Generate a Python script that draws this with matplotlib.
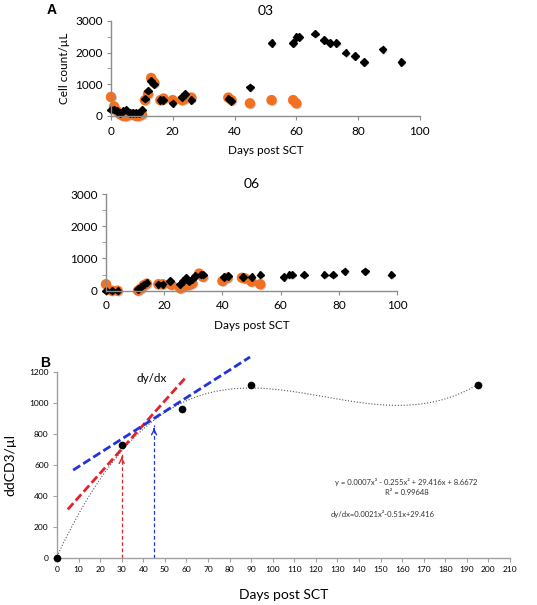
import numpy as np
import matplotlib
matplotlib.use('Agg')
import matplotlib.pyplot as plt
import matplotlib.patheffects as pe

plt.rcParams['font.family'] = ['Lato', 'DejaVu Sans']

# panel A, patient 03
p03_black_day = [0, 1, 2, 3, 4, 5, 6, 7, 8, 9, 10, 11, 12, 13, 14, 16, 17, 20, 23, 24, 26,
                 38, 39, 45, 52, 59, 60, 61, 66, 69, 71, 73, 76, 79, 82, 88, 94]
p03_black_val = [200, 200, 150, 100, 150, 200, 100, 100, 100, 100, 200, 550, 800, 1100, 1000, 500, 500, 400, 600, 700, 500,
                 550, 480, 900, 2300, 2300, 2500, 2500, 2600, 2400, 2300, 2300, 2000, 1900, 1700, 2100, 1700]
p03_orange_day = [0, 1, 2, 3, 4, 5, 6, 7, 8, 9, 10, 11, 12, 13, 14, 16, 17, 20, 23, 24, 26, 38, 39, 45, 52, 59, 60]
p03_orange_val = [600, 300, 150, 50, 0, 0, 50, 50, 0, 0, 50, 500, 700, 1200, 1050, 500, 550, 500, 500, 550, 580,
                  580, 500, 400, 500, 500, 400]

# panel A, patient 06
p06_black_day = [0, 2, 4, 11, 12, 13, 14, 18, 19.5, 22, 25.5, 26.5, 27.5, 28.5, 29.5, 30.5, 32.5, 33.3,
                 40.5, 42, 47, 50, 53, 61, 63, 64, 68, 75, 78, 82, 89, 98]
p06_black_val = [0, 0, 0, 50, 130, 200, 250, 200, 200, 300, 200, 300, 400, 300, 350, 450, 500, 500,
                 420, 450, 420, 420, 500, 420, 500, 500, 500, 500, 500, 600, 600, 500]
p06_orange_day = [0, 2, 4, 11, 12, 13, 14, 18, 19.5, 22.5, 25.5, 26.3, 27.2, 28.6, 29.7, 32, 33.3,
                  40, 41.7, 46.7, 47.8, 50, 53]
p06_orange_val = [200, 0, 0, 0, 70, 170, 220, 200, 200, 180, 70, 130, 150, 180, 230, 530, 430,
                  300, 400, 400, 380, 280, 200]

# panel B
b_day = [0, 30, 58, 90, 195]
b_val = [0, 726, 960, 1113, 1118]
red_tan_x = [5, 60]
red_tan_y = [313, 1170]
blue_tan_x = [7.5, 89.5]
blue_tan_y = [567, 1297]
red_arrow = (30, 670)
blue_arrow = (45, 855)

orange = '#F37021'
grey = '#8C8C8C'
shadow = [pe.SimplePatchShadow(offset=(1, -1), shadow_rgbFace='#999999', alpha=0.5), pe.Normal()]

fig = plt.figure(figsize=(5.37, 6.05), dpi=100)


def style_a(ax, title):
    ax.set_xlim(0, 100)
    ax.set_ylim(0, 3000)
    for s in ['top', 'right']:
        ax.spines[s].set_visible(False)
    for s in ['left', 'bottom']:
        ax.spines[s].set_color(grey)
        ax.spines[s].set_linewidth(1)
    ax.set_xticks(range(0, 101, 20))
    ax.set_yticks(range(0, 3001, 1000))
    ax.set_yticks(range(0, 3001, 500), minor=True)
    ax.tick_params(axis='both', which='both', direction='out', color=grey, length=3,
                   labelsize=8.5, pad=3)
    ax.tick_params(axis='x', pad=4)
    ax.set_title(title, fontsize=10, pad=4)
    ax.set_xlabel('Days post SCT', fontsize=8.5, labelpad=6)


ax1 = fig.add_axes([0.2067, 0.8083, 0.575, 0.157])
style_a(ax1, '03')
ax1.plot(p03_orange_day, p03_orange_val, 'o', color=orange, ms=6.5, clip_on=False, path_effects=shadow)
ax1.plot(p03_black_day, p03_black_val, 'D', color='black', ms=3.8, clip_on=False, path_effects=shadow)
ax1.set_ylabel('Cell count/µL', fontsize=8.5, labelpad=4)
fig.text(0.097, 0.983, 'A', fontsize=10, fontweight='bold', ha='center', va='center', family='Liberation Sans')

ax2 = fig.add_axes([0.1974, 0.5195, 0.542, 0.1598])
style_a(ax2, '06')
ax2.plot(p06_orange_day, p06_orange_val, 'o', color=orange, ms=6.5, clip_on=False, path_effects=shadow)
ax2.plot(p06_black_day, p06_black_val, 'D', color='black', ms=3.8, clip_on=False, path_effects=shadow)

ax3 = fig.add_axes([0.1061, 0.0777, 0.8436, 0.3074])
ax3.set_xlim(0, 210)
ax3.set_ylim(0, 1200)
for s in ['top', 'right']:
    ax3.spines[s].set_visible(False)
for s in ['left', 'bottom']:
    ax3.spines[s].set_color('#A0A0A0')
    ax3.spines[s].set_linewidth(1)
ax3.set_xticks(range(0, 211, 10))
ax3.set_yticks(range(0, 1201, 200))
ax3.tick_params(axis='both', direction='out', color='#A0A0A0', length=3, labelsize=6, pad=3)
ax3.set_xlabel('Days post SCT', fontsize=10, labelpad=11)
ax3.set_ylabel('ddCD3/µl', fontsize=10, labelpad=9)

# cubic trendline like excel
coef = np.polyfit(b_day, b_val, 3)
xs = np.linspace(0, max(b_day), 300)
ax3.plot(xs, np.polyval(coef, xs), ':', color='#555555', lw=0.8)
ax3.plot(b_day, b_val, 'o', color='black', ms=4.5, clip_on=False, zorder=5)

ax3.plot(red_tan_x, red_tan_y, color='#E3232A', lw=2, ls=(0, (3, 1.3)), clip_on=False)
ax3.plot(blue_tan_x, blue_tan_y, color='#2233DD', lw=2, ls=(0, (3, 1.3)), clip_on=False)

for (ax_x, ax_y), c in [(red_arrow, '#E3232A'), (blue_arrow, '#2233DD')]:
    ax3.plot([ax_x, ax_x], [0, ax_y], color=c, lw=0.9, ls=(0, (3, 2)))
    ax3.annotate('', xy=(ax_x, ax_y), xytext=(ax_x, ax_y - 40),
                 arrowprops=dict(arrowstyle='->', color=c, lw=1, mutation_scale=9))

ax3.text(44, 1160, 'dy/dx', fontsize=8.5, ha='center', va='center')
ax3.text(162, 490, 'y = 0.0007x³ - 0.255x² + 29.416x + 8.6672', fontsize=5.5, ha='center', va='center', color='#333333')
ax3.text(162, 422, 'R² = 0.99648', fontsize=5.5, ha='center', va='center', color='#333333')
ax3.text(127, 284, 'dy/dx=0.0021x²-0.51x+29.416', fontsize=5.5, ha='left', va='center', color='#333333')
fig.text(0.084, 0.4, 'B', fontsize=10, fontweight='bold', ha='center', va='center', family='Liberation Sans')

plt.savefig('out.png', dpi=100)
